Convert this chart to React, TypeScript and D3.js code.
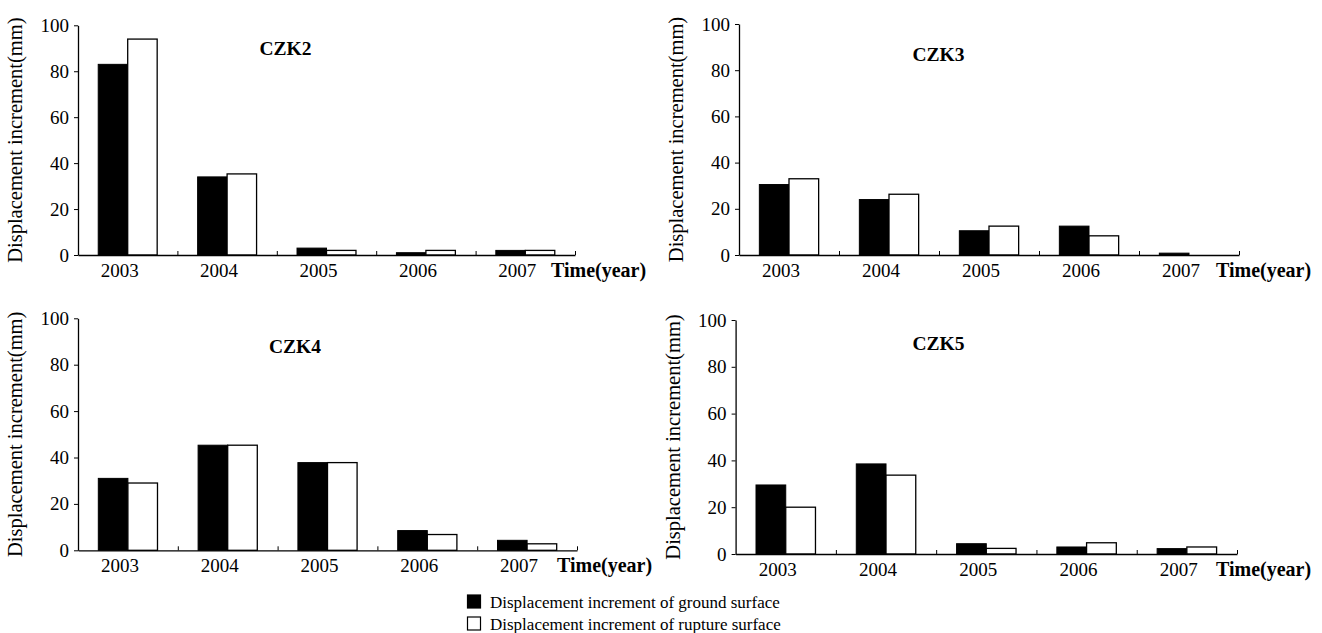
import * as d3 from "d3";
import {useEffect, useRef} from "react";

// years on the x axis
const years = ["2003", "2004", "2005", "2006", "2007"];
const boreholes = ["CZK2", "CZK3", "CZK4", "CZK5"];

// displacement increment of ground surface (mm)
const groundCZK2 = [83, 34, 3, 1, 2];
const groundCZK3 = [30.5, 24, 10.5, 12.5, 0.8];
const groundCZK4 = [31, 45.3, 37.8, 8.5, 4.3];
const groundCZK5 = [29.5, 38.5, 4.4, 3, 2.3];

// displacement increment of rupture surface (mm)
const ruptureCZK2 = [94, 35.3, 2, 2, 2];
const ruptureCZK3 = [33, 26.3, 12.5, 8.3, 0];
const ruptureCZK4 = [29, 45.3, 37.8, 6.8, 2.8];
const ruptureCZK5 = [20, 33.7, 2.4, 4.8, 3];

const yTicks = [0, 20, 40, 60, 80, 100];
const legendLabels = [
    "Displacement increment of ground surface",
    "Displacement increment of rupture surface",
];

const ground = [groundCZK2, groundCZK3, groundCZK4, groundCZK5];
const rupture = [ruptureCZK2, ruptureCZK3, ruptureCZK4, ruptureCZK5];

// plot boxes of the four panels
const layout = [
    {x0: 78, x1: 575, top: 25.3, bottom: 255, tx: 285.5, ty: 55, timeDx: -24},
    {x0: 739, x1: 1239, top: 24, bottom: 255, tx: 938.5, ty: 61, timeDx: -23},
    {x0: 78, x1: 577, top: 318.3, bottom: 550.3, tx: 295, ty: 353, timeDx: -20},
    {x0: 735.6, x1: 1237, top: 320, bottom: 554, tx: 938.5, ty: 350, timeDx: -21},
];

const FONT = "'Liberation Serif', 'Times New Roman', serif";

export default function App() {
    const ref = useRef<SVGSVGElement>(null);

    useEffect(() => {
        const svg = d3.select(ref.current);
        svg.selectAll("*").remove();

        boreholes.forEach((name, i) => {
            const L = layout[i];
            const g = svg.append("g");

            const x = d3.scaleBand()
                .domain(years)
                .range([L.x0, L.x1])
                .paddingInner(0.407)
                .paddingOuter(0.2035);
            const xSub = d3.scaleBand()
                .domain(["ground", "rupture"])
                .range([0, x.bandwidth()]);
            const y = d3.scaleLinear().domain([0, 100]).range([L.bottom, L.top]);

            // bars
            const rows = years.map((yr, k) => ({yr, ground: ground[i][k], rupture: rupture[i][k]}));
            const grp = g.selectAll(".grp").data(rows).enter().append("g")
                .attr("transform", d => `translate(${x(d.yr)},0)`);
            grp.append("rect")
                .attr("x", xSub("ground")!)
                .attr("width", xSub.bandwidth())
                .attr("y", d => y(d.ground))
                .attr("height", d => y(0) - y(d.ground))
                .attr("fill", "#000")
                .attr("stroke", "#000")
                .attr("stroke-width", 1);
            grp.filter(d => d.rupture > 0).append("rect")
                .attr("x", xSub("rupture")!)
                .attr("width", xSub.bandwidth())
                .attr("y", d => y(d.rupture))
                .attr("height", d => y(0) - y(d.rupture))
                .attr("fill", "#fff")
                .attr("stroke", "#000")
                .attr("stroke-width", 1.3);

            // y axis
            const ya = g.append("g")
                .attr("transform", `translate(${L.x0},0)`)
                .call(d3.axisLeft(y).tickValues(yTicks).tickSize(4).tickPadding(5).tickSizeOuter(0));
            ya.select(".domain").attr("stroke-width", 1.3);
            ya.selectAll("text").style("font-family", FONT).style("font-size", "19px").attr("fill", "#000");

            // x axis line with inward ticks at category boundaries
            const xb = d3.scaleLinear().domain([0, years.length]).range([L.x0, L.x1]);
            const xa = g.append("g")
                .attr("transform", `translate(0,${L.bottom})`)
                .call(d3.axisBottom(xb).tickValues(d3.range(1, years.length + 1)).tickSize(-4).tickSizeOuter(0).tickFormat(() => ""));
            xa.select(".domain").attr("stroke-width", 1.3);

            // year labels
            const xl = g.append("g")
                .attr("transform", `translate(0,${L.bottom})`)
                .call(d3.axisBottom(x).tickSize(0).tickPadding(8));
            xl.select(".domain").remove();
            xl.selectAll("text")
                .attr("dx", -8)
                .attr("y", 22)
                .attr("dy", 0)
                .style("font-family", FONT)
                .style("font-size", "19px")
                .attr("fill", "#000");

            // y title
            g.append("text")
                .attr("transform", `translate(${L.x0 - 56},${(L.top + L.bottom) / 2}) rotate(-90)`)
                .attr("text-anchor", "middle")
                .style("font-family", FONT)
                .style("font-size", "20.5px")
                .text("Displacement increment(mm)");

            // x title
            g.append("text")
                .attr("x", L.x1 + L.timeDx)
                .attr("y", L.bottom + 22)
                .style("font-family", FONT)
                .style("font-size", "20px")
                .style("font-weight", "bold")
                .text("Time(year)");

            // panel name
            g.append("text")
                .attr("x", L.tx)
                .attr("y", L.ty)
                .attr("text-anchor", "middle")
                .style("font-family", FONT)
                .style("font-size", "19.5px")
                .style("font-weight", "bold")
                .text(name);
        });

        // legend
        const lg = svg.append("g");
        legendLabels.forEach((lab, k) => {
            lg.append("rect")
                .attr("x", 467.5)
                .attr("y", 595 + k * 22)
                .attr("width", 13)
                .attr("height", 13)
                .attr("fill", k === 0 ? "#000" : "#fff")
                .attr("stroke", "#000")
                .attr("stroke-width", 1.2);
            lg.append("text")
                .attr("x", 490)
                .attr("y", 607.5 + k * 22)
                .style("font-family", FONT)
                .style("font-size", "17px")
                .text(lab);
        });
    }, []);

    return (
        <svg ref={ref} width={1322} height={633}
             style={{position: "absolute", left: 0, top: 0, background: "#fff"}}/>
    );
}
